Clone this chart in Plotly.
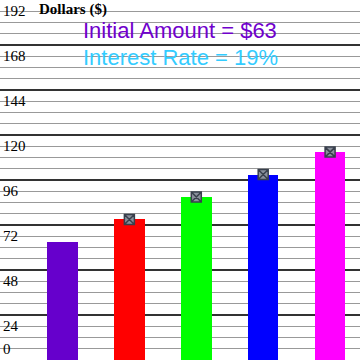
import plotly.graph_objects as go

periods = [0, 1, 2, 3, 4]
amounts = [63.00, 74.97, 86.94, 98.91, 110.88]
bar_colors = ["#6600cc", "#ff0000", "#00ff00", "#0000ff", "#ff00ff"]
tick_values = [0, 24, 48, 72, 96, 120, 144, 168, 192]
tick_labels = ["0", "24", "48", "72", "96", "120", "144", "168", "192"]
axis_title = "Dollars ($)"
line1 = "Initial Amount = $63"
line2 = "Interest Rate = 19%"

fig = go.Figure()
fig.add_trace(go.Bar(
    x=periods, y=amounts, width=0.456,
    marker=dict(color=bar_colors, line=dict(width=0)),
    hoverinfo="skip", showlegend=False,
))
fig.add_trace(go.Scatter(
    x=periods[1:], y=amounts[1:], mode="markers",
    marker=dict(symbol="square-x", size=10, color="#8a909c",
                line=dict(color="#39404d", width=1.5)),
    hoverinfo="skip", showlegend=False,
))

annotations = []
for v, t in zip(tick_values, tick_labels):
    annotations.append(dict(
        x=0, xref="paper", y=v, yref="y", text=t, showarrow=False,
        xanchor="left", yanchor="bottom" if v == 0 else "top",
        xshift=1, yshift=1 if v == 0 else -1,
        font=dict(family="Liberation Serif", size=15, color="#000000"),
    ))
annotations.append(dict(
    x=37 / 360, xref="paper", y=1, yref="paper", text="<b>" + axis_title + "</b>",
    showarrow=False, xanchor="left", yanchor="top", yshift=1,
    font=dict(family="Liberation Serif", size=15, color="#000000"),
))
annotations.append(dict(
    x=0.5, xref="paper", y=1 - 30 / 360, yref="paper", text=line1,
    showarrow=False, xanchor="center", yanchor="middle",
    font=dict(family="Liberation Sans", size=22, color="#7000cc"),
))
annotations.append(dict(
    x=0.5, xref="paper", y=1 - 57.5 / 360, yref="paper", text=line2,
    showarrow=False, xanchor="center", yanchor="middle",
    font=dict(family="Liberation Sans", size=22, color="#33ccff"),
))

fig.update_layout(
    width=360, height=360,
    margin=dict(l=0, r=0, t=0, b=0),
    paper_bgcolor="white", plot_bgcolor="white",
    xaxis=dict(range=[-0.934, 4.447], showgrid=False, zeroline=False,
               showticklabels=False, ticks="", showline=False),
    yaxis=dict(range=[0, 192], tick0=0, dtick=24, showgrid=True,
               gridcolor="#333333", gridwidth=2, zeroline=False,
               showticklabels=False, ticks="", showline=False,
               minor=dict(tick0=0, dtick=6, showgrid=True,
                          gridcolor="#999999", gridwidth=1.2)),
    annotations=annotations,
    bargap=0,
)

fig.write_html("out.html", config={"displayModeBar": False},
               post_script="document.body.style.margin='0';document.body.style.overflow='hidden';")
